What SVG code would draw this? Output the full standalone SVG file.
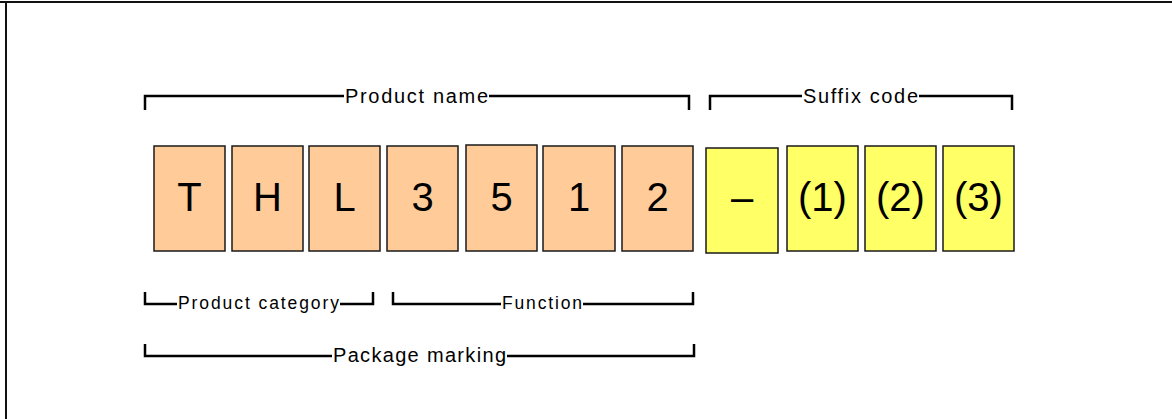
<svg xmlns="http://www.w3.org/2000/svg" width="1172" height="419" viewBox="0 0 1172 419">
<style>
.box{stroke:#1a1a1a;stroke-width:1.5}
.o{fill:#FFCC99}
.y{fill:#FFFF66}
.big{font-family:"Liberation Sans",Arial,sans-serif;font-size:40px;fill:#000;text-anchor:middle}
.lbl{font-family:"Liberation Sans",Arial,sans-serif;fill:#000}
.br{fill:none;stroke:#000;stroke-width:2.5}
</style>
<rect width="1172" height="419" fill="#fff"/>
<line x1="0" y1="2" x2="1172" y2="2" stroke="#111" stroke-width="2"/>
<line x1="6" y1="2" x2="6" y2="419" stroke="#111" stroke-width="2"/>
<g id="connectors">
<path class="br" d="M145,110 V96 H344 M489,96 H689 V110"/>
<path class="br" d="M710,110 V96 H802 M919,96 H1012 V110"/>
<path class="br" d="M145,292 V304 H177 M340,304 H373 V292"/>
<path class="br" d="M393,292 V304 H501 M583,304 H693 V292"/>
<path class="br" d="M145,344 V356 H332 M507,356 H694 V344"/>
</g>
<g id="label-product-name"><text class="lbl" x="345" y="103" font-size="20" textLength="143" lengthAdjust="spacing">Product name</text></g>
<g id="label-suffix-code"><text class="lbl" x="803" y="103" font-size="20" textLength="115" lengthAdjust="spacing">Suffix code</text></g>
<g id="label-product-category"><text class="lbl" x="178" y="309" font-size="17.5" textLength="161" lengthAdjust="spacing">Product category</text></g>
<g id="label-function"><text class="lbl" x="502" y="309" font-size="17.5" textLength="80" lengthAdjust="spacing">Function</text></g>
<g id="label-package-marking"><text class="lbl" x="333" y="362" font-size="20" textLength="173" lengthAdjust="spacing">Package marking</text></g>
<g id="box-T"><rect class="box o" x="154" y="146" width="71" height="105"/><text class="big" x="189.5" y="211">T</text></g>
<g id="box-H"><rect class="box o" x="232" y="146" width="71" height="105"/><text class="big" x="267.5" y="211">H</text></g>
<g id="box-L"><rect class="box o" x="309" y="146" width="71" height="105"/><text class="big" x="344.5" y="211">L</text></g>
<g id="box-3"><rect class="box o" x="387" y="146" width="71" height="105"/><text class="big" x="422.5" y="211">3</text></g>
<g id="box-5"><rect class="box o" x="466" y="145" width="71" height="106"/><text class="big" x="501.5" y="211">5</text></g>
<g id="box-1"><rect class="box o" x="543" y="146" width="72" height="105"/><text class="big" x="579" y="211">1</text></g>
<g id="box-2"><rect class="box o" x="622" y="146" width="71" height="105"/><text class="big" x="657.5" y="211">2</text></g>
<g id="box-dash"><rect class="box y" x="706" y="148" width="72" height="105"/><text class="big" x="742" y="211">–</text></g>
<g id="box-s1"><rect class="box y" x="787" y="146" width="71" height="105"/><text class="big" x="822.5" y="211">(1)</text></g>
<g id="box-s2"><rect class="box y" x="865" y="146" width="71" height="105"/><text class="big" x="900.5" y="211">(2)</text></g>
<g id="box-s3"><rect class="box y" x="943" y="146" width="71" height="105"/><text class="big" x="978.5" y="211">(3)</text></g>
</svg>
